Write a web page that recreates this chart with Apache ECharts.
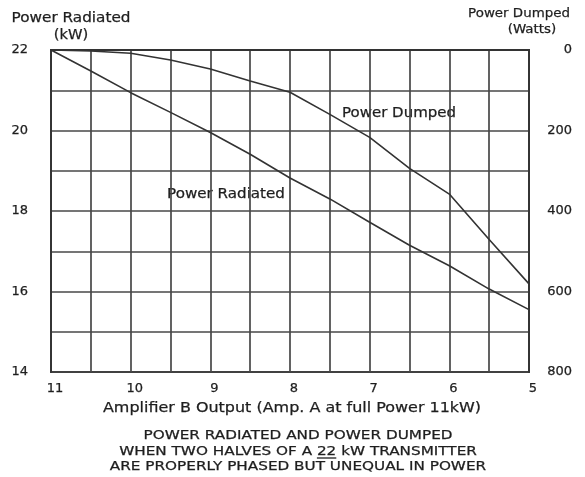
<!DOCTYPE html>
<html>
<head>
<meta charset="utf-8">
<script src="https://cdn.jsdelivr.net/npm/echarts@6/dist/echarts.min.js"></script>
<style>
  html, body { margin: 0; padding: 0; background: #fff; }
  #chart { width: 585px; height: 477px; }
</style>
</head>
<body>
<div id="chart"></div>
<script>
// Amplifier B output (kW), amplifier A held at 11 kW
const ampB = [11, 10.5, 10, 9.5, 9, 8.5, 8, 7.5, 7, 6.5, 6, 5.5, 5];
// Combined power radiated (kW)
const powerRadiatedKW = [22.0, 21.48, 20.94, 20.45, 19.95, 19.41, 18.82, 18.30, 17.72, 17.15, 16.64, 16.06, 15.55];
// Power dumped into the reject load (W)
const powerDumpedW = [0, 2.5, 8, 25, 47, 77, 105, 160, 217, 294, 358, 471, 581];

// Labelled ticks
const outputTicks = [11, 10, 9, 8, 7, 6, 5];
const radiatedTicks = [22, 20, 18, 16, 14];
const dumpedTicks = [0, 200, 400, 600, 800];

const xAxisTitle = 'Amplifier B Output (Amp. A at full Power 11kW)';
const captionLines = [
  'POWER RADIATED AND POWER DUMPED',
  'WHEN TWO HALVES OF A 22 kW TRANSMITTER',
  'ARE PROPERLY PHASED BUT UNEQUAL IN POWER'
];

const FONT = '"DejaVu Sans", sans-serif';
const INK = '#1e1e1e';
const GRID = '#474747';
const PEN = 0.25;   // slight stroke so lettering reads like pen-drawn text

const chart = echarts.init(document.getElementById('chart'), null, { renderer: 'canvas' });

function measure(text, font) {
  const ctx = document.createElement('canvas').getContext('2d');
  ctx.font = font;
  return ctx.measureText(text).width;
}

function label(text, x, y, size, scaleX) {
  return {
    type: 'text', x: x, y: y, scaleX: scaleX || 1,
    style: {
      text: text, font: size + 'px ' + FONT, fill: INK,
      stroke: INK, lineWidth: PEN,
      align: 'center', verticalAlign: 'middle'
    }
  };
}

// caption geometry
const capSize = 12;
const capFont = capSize + 'px "DejaVu Sans"';
const capScale = 1.27;
const capX = 298;
const capY = [436, 451.5, 466.5];

const graphics = [];
captionLines.forEach((line, i) => graphics.push(label(line, capX, capY[i], capSize, capScale)));

// underline under "22" in the second caption line
(function () {
  const line = captionLines[1];
  const idx = line.indexOf('22');
  const total = measure(line, capFont) * capScale;
  const pre = measure(line.slice(0, idx), capFont) * capScale;
  const w = measure('22', capFont) * capScale;
  const left = capX - total / 2 + pre;
  graphics.push({
    type: 'line',
    shape: { x1: left, y1: 458, x2: left + w, y2: 458 },
    style: { stroke: INK, lineWidth: 1.3 }
  });
})();

graphics.push(
  // axis titles
  label('Power Radiated', 71, 18, 14, 1.09),
  label('(kW)', 71, 35, 14, 1.05),
  label('Power Dumped', 519, 14, 13, 1.03),
  label('(Watts)', 532, 30, 13, 1.03),
  label(xAxisTitle, 292, 408, 14, 1.14),
  // curve labels inside the plot
  label('Power Dumped', 399, 113, 14, 1.07),
  label('Power Radiated', 226, 194, 14, 1.08)
);

const tickLabel = {
  fontFamily: FONT, fontSize: 13, color: INK,
  textBorderColor: INK, textBorderWidth: PEN
};

const option = {
  backgroundColor: '#fff',
  animation: false,
  grid: {
    left: 51, right: 56, top: 50, bottom: 105,
    show: true, borderColor: '#333', borderWidth: 1.8, backgroundColor: 'transparent'
  },
  xAxis: {
    type: 'value', min: 5, max: 11, interval: 0.5, inverse: true,
    axisLine: { show: true, lineStyle: { color: '#333', width: 1.8 } },
    axisTick: { show: false },
    splitLine: { show: true, lineStyle: { color: GRID, width: 1.7 } },
    axisLabel: Object.assign({}, tickLabel, {
      margin: 10, padding: [0, 0, 0, 8],
      formatter: v => outputTicks.includes(v) ? String(v) : ''
    })
  },
  yAxis: [
    {
      type: 'value', min: 14, max: 22, interval: 1, position: 'left',
      axisLine: { show: true, lineStyle: { color: '#333', width: 1.8 } },
      axisTick: { show: false },
      splitLine: { show: true, lineStyle: { color: GRID, width: 1.7 } },
      axisLabel: Object.assign({}, tickLabel, {
        margin: 23, padding: [0, 0, 8, 0],
        formatter: v => radiatedTicks.includes(v) ? String(v) : ''
      })
    },
    {
      type: 'value', min: 0, max: 800, interval: 100, position: 'right', inverse: true,
      axisLine: { show: true, lineStyle: { color: '#333', width: 1.8 } },
      axisTick: { show: false },
      splitLine: { show: false },
      axisLabel: Object.assign({}, tickLabel, {
        margin: 43, align: 'right', padding: [0, 0, 11, 0],
        formatter: v => dumpedTicks.includes(v) ? String(v) : ''
      })
    }
  ],
  series: [
    {
      name: 'Power Radiated', type: 'line', yAxisIndex: 0,
      data: ampB.map((x, i) => [x, powerRadiatedKW[i]]),
      showSymbol: false, lineStyle: { color: '#333', width: 1.6 }
    },
    {
      name: 'Power Dumped', type: 'line', yAxisIndex: 1,
      data: ampB.map((x, i) => [x, powerDumpedW[i]]),
      showSymbol: false, lineStyle: { color: '#333', width: 1.6 }
    }
  ],
  graphic: graphics
};

chart.setOption(option);
</script>
</body>
</html>
